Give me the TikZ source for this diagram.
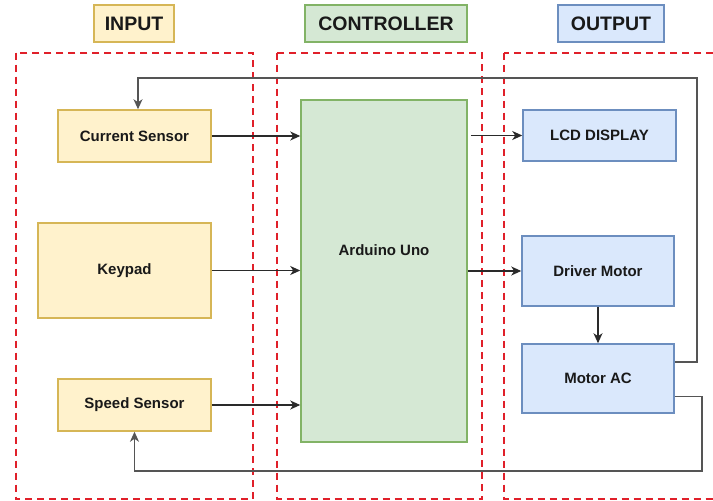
\documentclass[tikz,border=0pt]{standalone}
\usepackage{fontspec}
\setmainfont{Liberation Sans}
\usetikzlibrary{arrows.meta,calc}
\definecolor{yfill}{HTML}{FFF2CC}
\definecolor{ystroke}{HTML}{D6B656}
\definecolor{gfill}{HTML}{D5E8D4}
\definecolor{gstroke}{HTML}{82B366}
\definecolor{bfill}{HTML}{DAE8FC}
\definecolor{bstroke}{HTML}{6C8EBF}
\definecolor{dred}{HTML}{E0202A}
\definecolor{lnk}{HTML}{2A2A2A}
\tikzset{
  blk/.style={draw, line width=1.5pt, inner sep=0pt, font=\fontsize{15}{18}\selectfont\bfseries, text=black!90},
  yb/.style={blk, fill=yfill, draw=ystroke},
  gb/.style={blk, fill=gfill, draw=gstroke},
  bb/.style={blk, fill=bfill, draw=bstroke},
  ttl/.style={minimum height=37pt, font=\fontsize{19.5}{23}\selectfont\bfseries},
  zone/.style={draw=dred, line width=2pt, dash pattern=on 7pt off 5pt},
  tip/.style={-{Stealth[length=10pt,width=9pt,inset=3pt]}},
  arr/.style={draw=lnk, line width=1.2pt, tip},
  fb/.style={draw=lnk!80, line width=1.2pt, tip},
}
\begin{document}
\begin{tikzpicture}[x=1pt,y=-1pt]
\useasboundingbox (0,0) rectangle (713,501);
\fill[white] (0,0) rectangle (713,501);
% zones
\draw[zone] (15.7,52.5) rectangle (253,499);
\draw[zone] (277,52.5) rectangle (482,499);
\begin{scope}
\clip (0,0) rectangle (713,501);
\draw[zone] (504,52.5) rectangle (720,499);
\end{scope}
% titles
\node[yb, ttl, minimum width=80pt] (tin) at (134,23.5) {INPUT};
\node[gb, ttl, minimum width=162pt] (tctl) at (386,23.5) {CONTROLLER};
\node[bb, ttl, minimum width=106pt] (tout) at (611,23.5) {OUTPUT};
% blocks
\node[yb, minimum width=153pt, minimum height=52pt] (cs) at (134.5,136) {Current Sensor};
\node[yb, minimum width=173pt, minimum height=95pt] (kp) at (124.5,270.5) {Keypad};
\node[yb, minimum width=153pt, minimum height=52pt] (sp) at (134.5,405) {Speed Sensor};
\node[gb, minimum width=166pt, minimum height=342pt] (ard) at (384,271) {};
\node[blk, draw=none, fill=none] (ardl) at (384,250) {Arduino Uno};
\node[bb, minimum width=153pt, minimum height=51pt] (lcd) at (599.5,135.5) {LCD DISPLAY};
\node[bb, minimum width=152pt, minimum height=70pt] (drv) at (598,271) {Driver Motor};
\node[bb, minimum width=152pt, minimum height=69pt] (mac) at (598,378.5) {Motor AC};
% connectors
\draw[arr] (cs.east) -- (cs.east -| ard.west);
\draw[arr] (kp.east) -- (kp.east -| ard.west);
\draw[arr] (sp.east) -- (sp.east -| ard.west);
\draw[arr] ([xshift=3pt]ard.east |- lcd.west) -- (lcd.west);
\draw[arr] (ard.east |- drv.west) -- (drv.west);
\draw[arr] (drv.south) -- (mac.north);
\coordinate (tr) at (697,78);
\coordinate (br) at (702,471);
\draw[fb] ([yshift=16.5pt]mac.east) -| (tr) -| ([xshift=3.5pt]cs.north);
\draw[fb] ([yshift=-18pt]mac.east) -| (br) -| (sp.south);
\end{tikzpicture}
\end{document}
